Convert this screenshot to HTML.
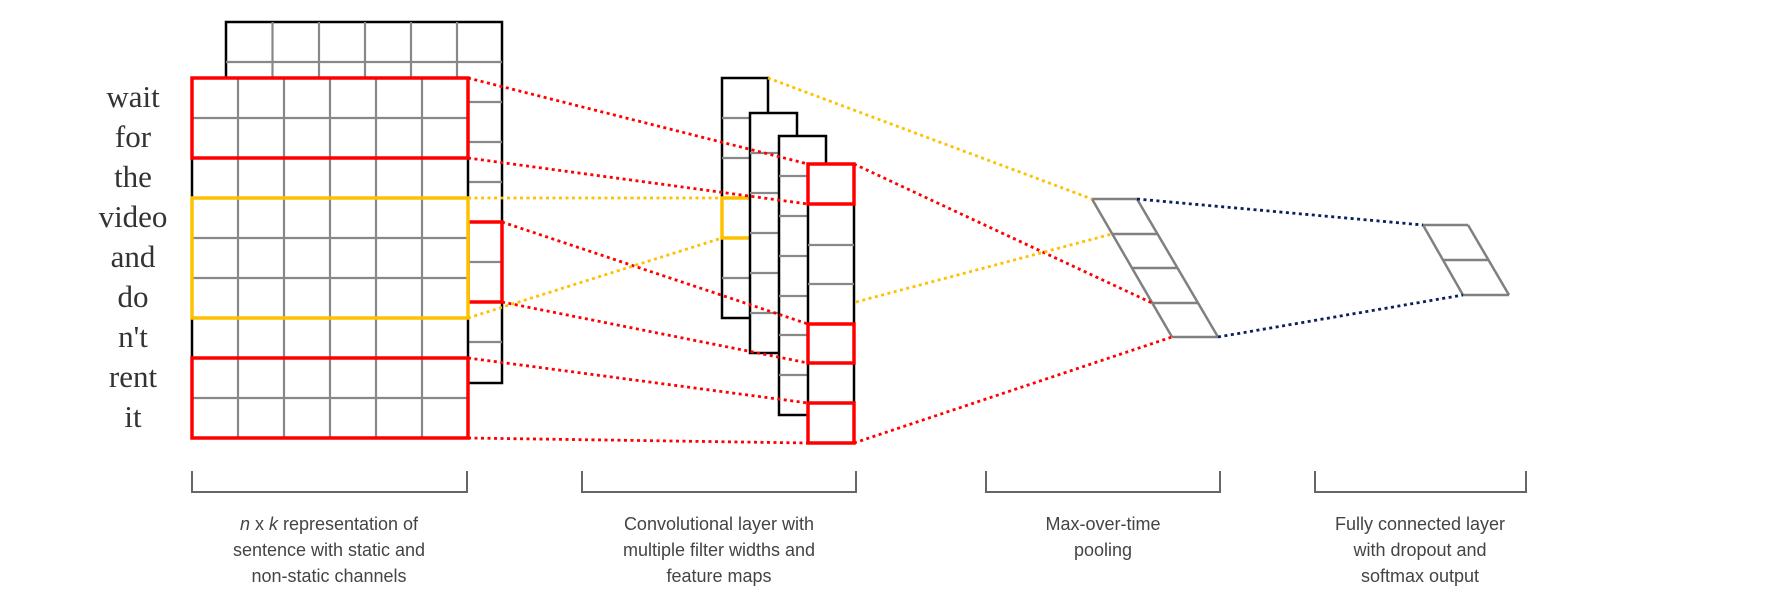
<!DOCTYPE html>
<html><head><meta charset="utf-8"><style>
html,body{margin:0;padding:0;background:#fff;}
svg{display:block;}
</style></head><body>
<svg width="1765" height="598" viewBox="0 0 1765 598" xmlns="http://www.w3.org/2000/svg">
<g fill="none">
<!-- back matrix -->
<rect x="226" y="22" width="276" height="361" fill="#fff" stroke="#000" stroke-width="2.5"/>
<g stroke="#888" stroke-width="2.2">
<line x1="226" y1="62" x2="502" y2="62"/>
<line x1="468" y1="102" x2="502" y2="102"/><line x1="468" y1="142" x2="502" y2="142"/>
<line x1="468" y1="182" x2="502" y2="182"/><line x1="468" y1="262" x2="502" y2="262"/>
<line x1="468" y1="342" x2="502" y2="342"/>
<line x1="272.5" y1="22" x2="272.5" y2="78"/><line x1="319" y1="22" x2="319" y2="78"/>
<line x1="365" y1="22" x2="365" y2="78"/><line x1="411" y1="22" x2="411" y2="78"/>
<line x1="457" y1="22" x2="457" y2="78"/>
</g>
<rect x="468" y="222" width="34" height="80" stroke="#f00" stroke-width="3.5"/>
<!-- front matrix -->
<rect x="192" y="78" width="276" height="360" fill="#fff" stroke="#000" stroke-width="2.5"/>
<g stroke="#888" stroke-width="2.2">
<line x1="238" y1="78" x2="238" y2="438"/><line x1="284" y1="78" x2="284" y2="438"/>
<line x1="330" y1="78" x2="330" y2="438"/><line x1="376" y1="78" x2="376" y2="438"/>
<line x1="422" y1="78" x2="422" y2="438"/>
<line x1="192" y1="118" x2="468" y2="118"/><line x1="192" y1="158" x2="468" y2="158"/>
<line x1="192" y1="198" x2="468" y2="198"/><line x1="192" y1="238" x2="468" y2="238"/>
<line x1="192" y1="278" x2="468" y2="278"/><line x1="192" y1="318" x2="468" y2="318"/>
<line x1="192" y1="358" x2="468" y2="358"/><line x1="192" y1="398" x2="468" y2="398"/>
</g>
<rect x="192" y="78" width="276" height="80" stroke="#f00" stroke-width="3.5"/>
<rect x="192" y="198" width="276" height="120" stroke="#ffc000" stroke-width="3.5"/>
<rect x="192" y="358" width="276" height="80" stroke="#f00" stroke-width="3.5"/>

<!-- conv maps -->
<rect x="722" y="78" width="46" height="240" fill="#fff" stroke="#000" stroke-width="2.5"/>
<g stroke="#888" stroke-width="2.2"><line x1="722" y1="118" x2="768" y2="118"/><line x1="722" y1="158" x2="768" y2="158"/><line x1="722" y1="238" x2="768" y2="238"/><line x1="722" y1="278" x2="768" y2="278"/></g>
<rect x="722" y="198" width="46" height="40" stroke="#ffc000" stroke-width="3.5"/>
<rect x="750" y="113" width="47" height="240" fill="#fff" stroke="#000" stroke-width="2.5"/>
<g stroke="#888" stroke-width="2.2"><line x1="750" y1="153" x2="797" y2="153"/><line x1="750" y1="193" x2="797" y2="193"/><line x1="750" y1="233" x2="797" y2="233"/><line x1="750" y1="273" x2="797" y2="273"/><line x1="750" y1="313" x2="797" y2="313"/></g>
<rect x="779" y="136" width="47" height="279" fill="#fff" stroke="#000" stroke-width="2.5"/>
<g stroke="#888" stroke-width="2.2"><line x1="779" y1="176" x2="826" y2="176"/><line x1="779" y1="216" x2="826" y2="216"/><line x1="779" y1="256" x2="826" y2="256"/><line x1="779" y1="296" x2="826" y2="296"/><line x1="779" y1="335" x2="826" y2="335"/><line x1="779" y1="375" x2="826" y2="375"/></g>
<rect x="808" y="164" width="46" height="279" fill="#fff" stroke="#000" stroke-width="2.5"/>
<g stroke="#888" stroke-width="2.2"><line x1="808" y1="245" x2="854" y2="245"/><line x1="808" y1="284" x2="854" y2="284"/></g>
<rect x="808" y="164" width="46" height="40" stroke="#f00" stroke-width="3.5"/>
<rect x="808" y="324" width="46" height="39" stroke="#f00" stroke-width="3.5"/>
<rect x="808" y="403" width="46" height="40" stroke="#f00" stroke-width="3.5"/>

<!-- pooling -->
<g stroke="#808080" stroke-width="2.5">
<line x1="1092" y1="199" x2="1172" y2="337"/><line x1="1137" y1="199" x2="1218" y2="337"/>
<line x1="1092" y1="199" x2="1137" y2="199"/><line x1="1112" y1="234" x2="1157" y2="234"/>
<line x1="1132" y1="268" x2="1177" y2="268"/><line x1="1152" y1="303" x2="1198" y2="303"/>
<line x1="1172" y1="337" x2="1218" y2="337"/>
<!-- fc -->
<line x1="1423" y1="225" x2="1463" y2="295"/><line x1="1468" y1="225" x2="1509" y2="295"/>
<line x1="1423" y1="225" x2="1468" y2="225"/><line x1="1444" y1="260" x2="1489" y2="260"/>
<line x1="1463" y1="295" x2="1509" y2="295"/>
</g>

<!-- dotted connectors -->
<g stroke-width="2.8" stroke-dasharray="3 3.5">
<g stroke="#f00">
<line x1="468" y1="78" x2="808" y2="164"/><line x1="468" y1="158" x2="808" y2="204"/>
<line x1="502" y1="222" x2="808" y2="324"/><line x1="502" y1="302" x2="808" y2="363"/>
<line x1="468" y1="358" x2="808" y2="403"/><line x1="468" y1="438" x2="808" y2="443"/>
<line x1="854" y1="164" x2="1152" y2="303"/><line x1="854" y1="443" x2="1172" y2="337"/>
</g>
<g stroke="#ffc000">
<line x1="468" y1="198" x2="722" y2="198"/><line x1="468" y1="318" x2="722" y2="238"/>
<line x1="768" y1="78" x2="1092" y2="199"/><line x1="856" y1="302" x2="1112" y2="234"/>
</g>
<g stroke="#0a1f5c">
<line x1="1137" y1="199" x2="1423" y2="225"/><line x1="1218" y1="337" x2="1463" y2="295"/>
</g>
</g>

<!-- brackets -->
<g stroke="#666" stroke-width="2">
<polyline points="192,471 192,492 467,492 467,471"/>
<polyline points="582,471 582,492 856,492 856,471"/>
<polyline points="986,471 986,492 1220,492 1220,471"/>
<polyline points="1315,471 1315,492 1526,492 1526,471"/>
</g>
</g>

<g font-family="Liberation Serif, serif" font-size="31" fill="#333" text-anchor="middle">
<text x="133" y="107">wait</text><text x="133" y="147">for</text><text x="133" y="187">the</text>
<text x="133" y="227">video</text><text x="133" y="267">and</text><text x="133" y="307">do</text>
<text x="133" y="347">n't</text><text x="133" y="387">rent</text><text x="133" y="427">it</text>
</g>
<g font-family="Liberation Sans, sans-serif" font-size="18" fill="#444" text-anchor="middle">
<text x="329" y="530"><tspan font-style="italic">n</tspan> x <tspan font-style="italic">k</tspan> representation of</text>
<text x="329" y="556">sentence with static and</text>
<text x="329" y="582">non-static channels</text>
<text x="719" y="530">Convolutional layer with</text>
<text x="719" y="556">multiple filter widths and</text>
<text x="719" y="582">feature maps</text>
<text x="1103" y="530">Max-over-time</text>
<text x="1103" y="556">pooling</text>
<text x="1420" y="530">Fully connected layer</text>
<text x="1420" y="556">with dropout and</text>
<text x="1420" y="582">softmax output</text>
</g>
</svg>
</body></html>
